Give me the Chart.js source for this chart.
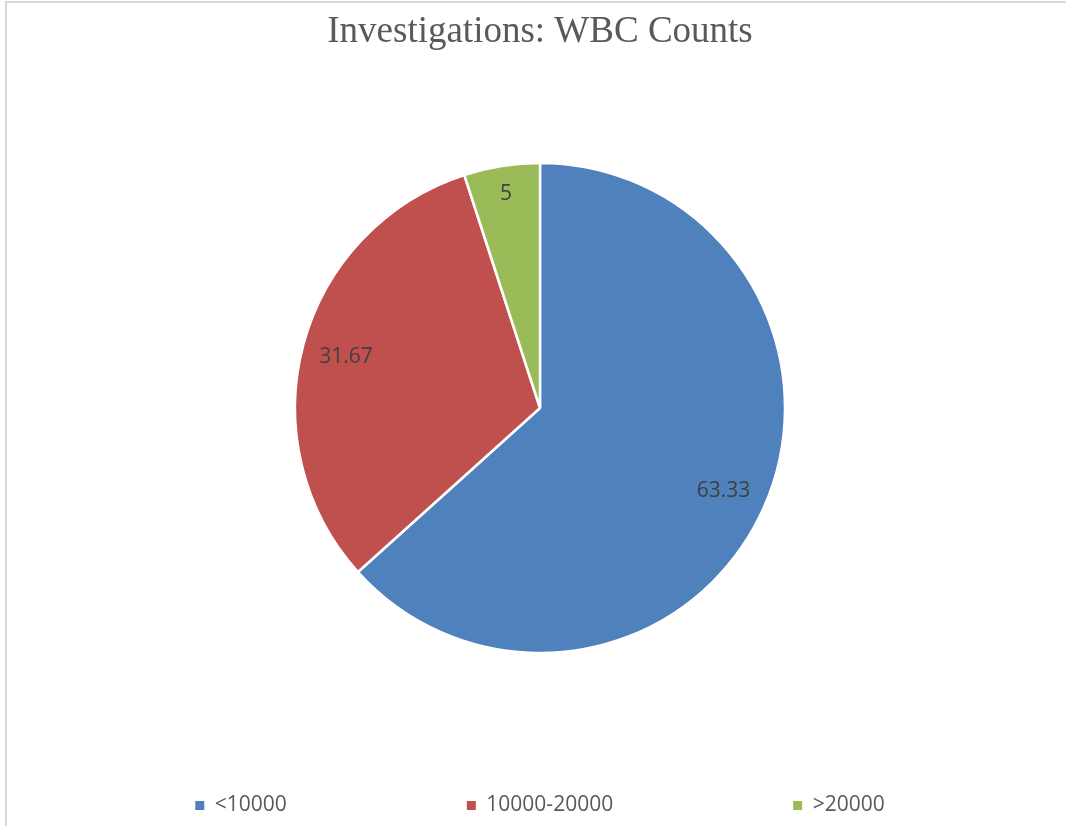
<!DOCTYPE html>
<html>
<head>
<meta charset="utf-8">
<script src="https://cdn.jsdelivr.net/npm/chart.js@4/dist/chart.umd.min.js"></script>
<style>
  html, body { margin: 0; padding: 0; background: #ffffff; }
  #wrap { width: 1066px; height: 826px; position: relative; }
</style>
</head>
<body>
<div id="wrap"><canvas id="c" width="1066" height="826"></canvas></div>
<script>
const chartTitle = 'Investigations: WBC Counts';
const categories = ['<10000', '10000-20000', '>20000'];
const values = [63.33, 31.67, 5];
const valueLabels = ['63.33', '31.67', '5'];
const sliceColors = ['#4F81BD', '#C0504D', '#9BBB59'];

const labelFractions = [0.82, 0.82, 0.89];

const frameBorder = {
  id: 'frameBorder',
  beforeDraw(chart) {
    const ctx = chart.ctx;
    ctx.save();
    ctx.fillStyle = '#ffffff';
    ctx.fillRect(0, 0, chart.width, chart.height);
    ctx.strokeStyle = '#d9d9d9';
    ctx.lineWidth = 2;
    ctx.beginPath();
    ctx.moveTo(6, chart.height);
    ctx.lineTo(6, 2);
    ctx.lineTo(chart.width, 2);
    ctx.stroke();
    ctx.restore();
  }
};

const sliceLabels = {
  id: 'sliceLabels',
  afterDatasetsDraw(chart) {
    const ctx = chart.ctx;
    const meta = chart.getDatasetMeta(0);
    ctx.save();
    ctx.font = '21px "Open Sans"';
    ctx.fillStyle = '#404040';
    ctx.textAlign = 'center';
    ctx.textBaseline = 'middle';
    meta.data.forEach((arc, i) => {
      const p = arc.getProps(['x', 'y', 'startAngle', 'endAngle', 'outerRadius'], true);
      const mid = (p.startAngle + p.endAngle) / 2;
      const r = p.outerRadius * labelFractions[i];
      ctx.fillText(valueLabels[i], p.x + Math.cos(mid) * r, p.y + Math.sin(mid) * r + 1);
    });
    ctx.restore();
  }
};

new Chart(document.getElementById('c'), {
  type: 'pie',
  data: {
    labels: categories,
    datasets: [{
      data: values,
      backgroundColor: sliceColors,
      borderColor: '#ffffff',
      borderWidth: 2.5,
      radius: 245,
      clip: false
    }]
  },
  options: {
    responsive: false,
    animation: false,
    devicePixelRatio: 1,
    layout: { padding: { left: 14, right: 0, top: 0, bottom: 0 } },
    plugins: {
      title: {
        display: true,
        text: chartTitle,
        color: '#595959',
        font: { family: '"Liberation Serif", "Times New Roman", serif', size: 37, weight: 'normal' },
        padding: { top: 10, bottom: 146.6 }
      },
      legend: {
        display: true,
        position: 'bottom',
        labels: {
          color: '#595959',
          font: { family: '"Open Sans"', size: 21 },
          boxWidth: 9,
          boxHeight: 9,
          padding: 180,
          generateLabels(chart) {
            const items = Chart.controllers.pie.overrides.plugins.legend.labels.generateLabels(chart);
            return items.map(it => Object.assign(it, { lineWidth: 0, strokeStyle: 'rgba(0,0,0,0)' }));
          }
        }
      },
      tooltip: { enabled: false }
    }
  },
  plugins: [frameBorder, sliceLabels]
});
</script>
</body>
</html>
